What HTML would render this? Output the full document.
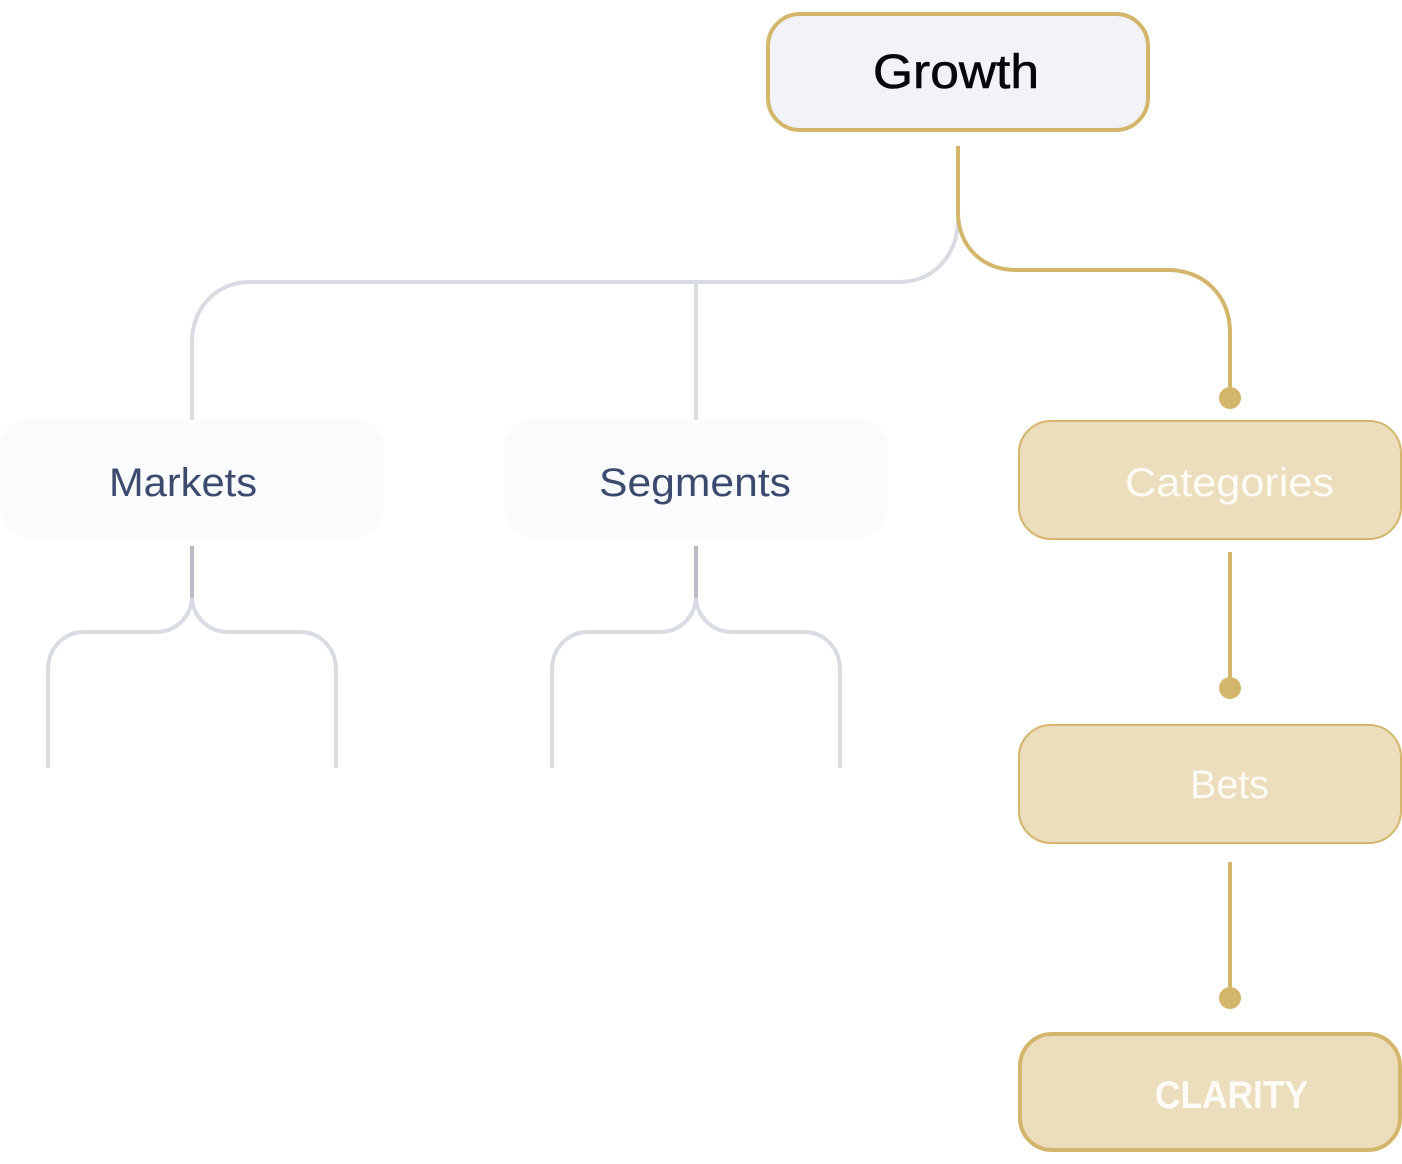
<!DOCTYPE html>
<html>
<head>
<meta charset="utf-8">
<style>
html,body{margin:0;padding:0;background:#fff;width:1402px;height:1164px;overflow:hidden}
svg{display:block}
text{font-family:"Liberation Sans",sans-serif}
</style>
</head>
<body>
<svg width="1402" height="1164" viewBox="0 0 1402 1164" xmlns="http://www.w3.org/2000/svg">
  <!-- nodes -->
  <rect x="768" y="14" width="380" height="116" rx="32" fill="#f1f3f7" stroke="#d4b56c" stroke-width="4"/>
  <rect x="0" y="418" width="384" height="120" rx="32" fill="#fafbfd"/>
  <rect x="504" y="418" width="384" height="120" rx="32" fill="#fafbfd"/>
  <rect x="1019" y="421" width="382" height="118" rx="32" fill="#ecddbd" stroke="#d4b56c" stroke-width="2"/>
  <rect x="1019" y="725" width="382" height="118" rx="32" fill="#ecddbd" stroke="#d4b56c" stroke-width="2"/>
  <rect x="1020" y="1034" width="380" height="116" rx="32" fill="#ecddbd" stroke="#d4b56c" stroke-width="4"/>
  <!-- grey connectors -->
  <g fill="none" stroke="#d9dbe3" stroke-width="4">
    <path d="M958 220 C958 254 934 282 900 282 L250 282 C216 282 192 308 192 342 L192 420"/>
    <path d="M696 282 L696 420"/>
    <path d="M192 596 C192 616 176 632 156 632 L84 632 C64 632 48 648 48 670 L48 768"/>
    <path d="M192 596 C192 616 208 632 228 632 L300 632 C320 632 336 648 336 670 L336 768"/>
    <path d="M696 596 C696 616 680 632 660 632 L588 632 C568 632 552 648 552 670 L552 768"/>
    <path d="M696 596 C696 616 712 632 732 632 L804 632 C824 632 840 648 840 670 L840 768"/>
  </g>
  <path d="M192 546 L192 598 M696 546 L696 598" fill="none" stroke="#b9bcc6" stroke-width="4"/>
  <!-- gold connectors -->
  <g fill="none" stroke="#d4b56c" stroke-width="4">
    <path d="M958 146 L958 212 C958 246 982 270 1016 270 L1168 270 C1204 270 1230 296 1230 332 L1230 396"/>
    <path d="M1230 552 L1230 686"/>
    <path d="M1230 862 L1230 996"/>
  </g>
  <g fill="#d4b56c">
    <circle cx="1230" cy="398" r="11"/>
    <circle cx="1230" cy="688" r="11"/>
    <circle cx="1230" cy="998" r="11"/>
  </g>
  <!-- labels -->
  <text x="873" y="88" font-size="48" fill="#05070d" stroke="#05070d" stroke-width="0.6" textLength="166" lengthAdjust="spacingAndGlyphs">Growth</text>
  <text x="109" y="496" font-size="40" fill="#3b4a6f" textLength="148" lengthAdjust="spacingAndGlyphs">Markets</text>
  <text x="599" y="496" font-size="40" fill="#3b4a6f" textLength="192" lengthAdjust="spacingAndGlyphs">Segments</text>
  <text x="1125" y="496" font-size="40" fill="#fdfbf6" textLength="209" lengthAdjust="spacingAndGlyphs">Categories</text>
  <text x="1190" y="798" font-size="40" fill="#fdfbf6" textLength="79" lengthAdjust="spacingAndGlyphs">Bets</text>
  <text x="1155" y="1108" font-size="39" font-weight="700" fill="#fdfbf6" textLength="153" lengthAdjust="spacingAndGlyphs">CLARITY</text>
</svg>
</body>
</html>
